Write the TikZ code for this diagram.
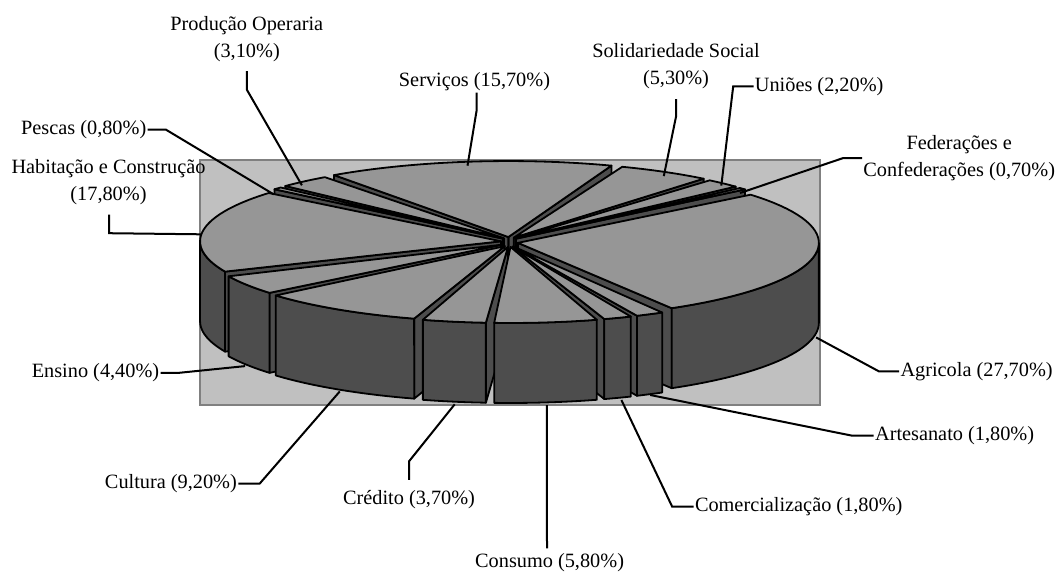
\documentclass[tikz,border=0pt]{standalone}
\usepackage{fontspec}
\setmainfont{Liberation Serif}
\usepackage{xcolor}
\definecolor{pieTop}{RGB}{150, 150, 150}
\definecolor{pieSide}{RGB}{77, 77, 77}
\definecolor{plotFill}{RGB}{192, 192, 192}
\definecolor{plotEdge}{RGB}{128, 128, 128}
\newcommand{\pieCx}{509.5}
\newcommand{\pieCy}{242}
\newcommand{\pieRx}{301}
\newcommand{\pieRy}{76}
\newcommand{\pieH}{80}

\begin{document}
\begin{tikzpicture}[x=0.5pt, y=-0.5pt,
    lbl/.style={font=\fontsize{10.15pt}{13.5pt}\selectfont, inner sep=0.5pt, align=center},
    leader/.style={draw=black, line width=1pt},
    pietop/.style={fill=pieTop, draw=black, line width=0.9pt, line join=round},
    pieside/.style={fill=pieSide, draw=black, line width=0.9pt, line join=round}]
    \useasboundingbox (0,0) rectangle (1061,574);

    % Plot area
    \draw[fill=plotFill, draw=plotEdge, line width=1.2pt] (200,160) rectangle (820,405);

    % Slices, back to front (start/end angle)
    \foreach \sa/\sb in {69.42/125.94, 50.34/69.42, 125.94/137.10, 42.42/50.34, 137.10/139.98, 39.90/42.42,
                         -220.02/-155.94, -59.82/39.90, -155.94/-140.10, -140.10/-106.98, -66.30/-59.82,
                         -72.78/-66.30, -106.98/-93.66, -93.66/-72.78} {
        \pgfmathsetmacro\midA{(\sa+\sb)/2}
        \pgfmathsetmacro\cenX{\pieCx+8.5*cos(\midA)}
        \pgfmathsetmacro\cenY{\pieCy-5*sin(\midA)}
        \pgfmathsetmacro\angA{\sa+0.55}
        \pgfmathsetmacro\angB{\sb-0.55}
        \pgfmathsetmacro\wallA{max(\angA,-180)}
        \pgfmathsetmacro\wallB{min(\angB,0)}
        % radial faces
        \pgfmathtruncatemacro\visA{cos(\angA)>0}
        \ifnum\visA=1
            \filldraw[pieside] (\cenX,\cenY) -- ({\cenX+\pieRx*cos(\angA)},{\cenY-\pieRy*sin(\angA)}) -- ++(0,\pieH) -- ({\cenX},{\cenY+\pieH}) -- cycle;
        \fi
        \pgfmathtruncatemacro\visB{cos(\angB)<0}
        \ifnum\visB=1
            \filldraw[pieside] (\cenX,\cenY) -- ({\cenX+\pieRx*cos(\angB)},{\cenY-\pieRy*sin(\angB)}) -- ++(0,\pieH) -- ({\cenX},{\cenY+\pieH}) -- cycle;
        \fi
        % outer wall
        \pgfmathtruncatemacro\hasWall{\wallB>\wallA}
        \ifnum\hasWall=1
            \filldraw[pieside] plot[domain=\wallA:\wallB, samples=40] ({\cenX+\pieRx*cos(\x)},{\cenY-\pieRy*sin(\x)})
                -- plot[domain=\wallB:\wallA, samples=40] ({\cenX+\pieRx*cos(\x)},{\cenY-\pieRy*sin(\x)+\pieH}) -- cycle;
        \fi
        % top
        \filldraw[pietop] (\cenX,\cenY) -- plot[domain=\angA:\angB, samples=40] ({\cenX+\pieRx*cos(\x)},{\cenY-\pieRy*sin(\x)}) -- cycle;
    }

    % Points on the pie
    \coordinate (pProducao) at (301.9,185.3);
    \coordinate (pServicos) at (467.5,165.7);
    \coordinate (pPescas) at (273.8,194.4);
    \coordinate (pHabitacao) at (201.2,234.3);
    \coordinate (pSolidariedade) at (663.8,176.1);
    \coordinate (pUnioes) at (721.3,185.6);
    \coordinate (pFederacoes) at (740,193);
    \coordinate (pEnsino) at (245.1,366.1);
    \coordinate (pCultura) at (339.8,391.4);
    \coordinate (pCredito) at (454.7,404.3);
    \coordinate (pConsumo) at (546.9,405.1);
    \coordinate (pComercializacao) at (621.4,400);
    \coordinate (pArtesanato) at (650.2,395);
    \coordinate (pAgricola) at (816.1,337.4);

    % Labels
    \node[lbl] (producao) at (246.8,39.4) {Produção Operaria\\(3,10\%)};
    \node[lbl] (servicos) at (474.5,82) {Serviços (15,70\%)};
    \node[lbl, anchor=east] (pescas) at (147.7,129.5) {Pescas (0,80\%)};
    \node[lbl] (habitacao) at (108.5,182.5) {Habitação e Construção\\(17,80\%)};
    \node[lbl] (solidariedade) at (676,66) {Solidariedade Social\\(5,30\%)};
    \node[lbl, anchor=west] (unioes) at (753.5,86.4) {Uniões (2,20\%)};
    \node[lbl, anchor=west] (federacoes) at (862,158) {Federações e\\Confederações (0,70\%)};
    \node[lbl, anchor=east] (ensino) at (160.6,372.8) {Ensino (4,40\%)};
    \node[lbl, anchor=east] (cultura) at (238.3,483.7) {Cultura (9,20\%)};
    \node[lbl] (credito) at (409,499.6) {Crédito (3,70\%)};
    \node[lbl] (consumo) at (549.6,563) {Consumo (5,80\%)};
    \node[lbl, anchor=west] (comercializacao) at (693.6,506.7) {Comercialização (1,80\%)};
    \node[lbl, anchor=west] (artesanato) at (873.7,435.6) {Artesanato (1,80\%)};
    \node[lbl, anchor=west] (agricola) at (899.1,371.3) {Agricola (27,70\%)};

    % Leader lines
    \draw[leader] (producao.south) ++(0,7.5) -- ++(0,18.6) -- (pProducao);
    \draw[leader] ([xshift=1pt]servicos.south) -- ++(0,18.6) -- (pServicos);
    \draw[leader] (pescas.east) -- ++(18,0) -- (pPescas);
    \draw[leader] ([xshift=0.3pt]habitacao.south) ++(0,8) -- ++(0,18.6) -- (pHabitacao);
    \draw[leader] (solidariedade.south) ++(0,9) -- ++(0,17.6) -- (pSolidariedade);
    \draw[leader] (unioes.west) -- ++(-20.3,0) -- (pUnioes);
    \draw[leader] (federacoes.west) -- ++(-18.7,0) -- (pFederacoes);
    \draw[leader] (ensino.east) -- ++(18.6,0) -- (pEnsino);
    \draw[leader] (cultura.east) -- ++(21.3,0) -- (pCultura);
    \draw[leader] (credito.north) ++(0,-9) -- ++(0,-18.6) -- (pCredito);
    \draw[leader] ([xshift=-1.3pt]consumo.north) ++(0,-4) -- (pConsumo);
    \draw[leader] (comercializacao.west) -- ++(-21.4,0) -- (pComercializacao);
    \draw[leader] (artesanato.west) -- ++(-22,0) -- (pArtesanato);
    \draw[leader] (agricola.west) -- ++(-20.3,0) -- (pAgricola);
\end{tikzpicture}
\end{document}
